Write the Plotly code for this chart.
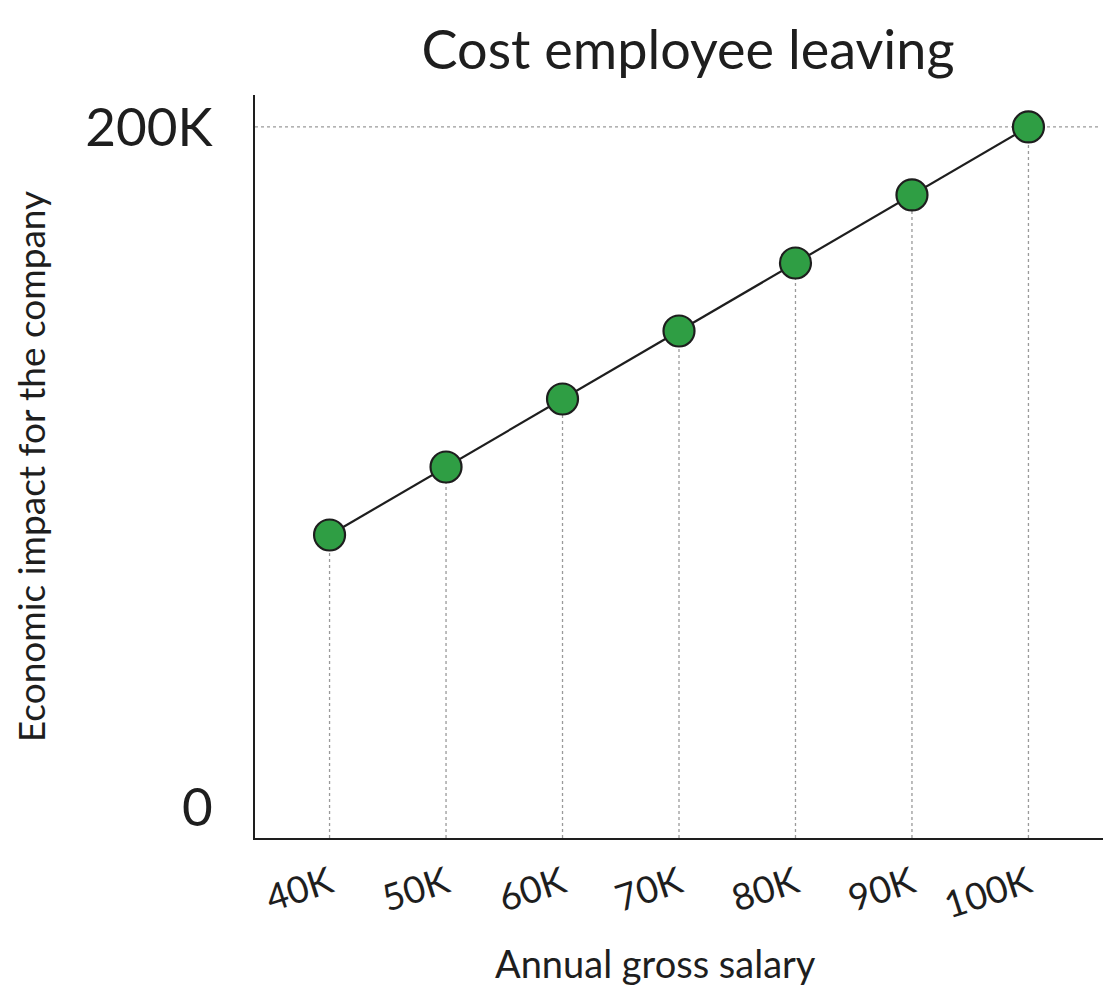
import plotly.graph_objects as go

salary = [40000, 50000, 60000, 70000, 80000, 90000, 100000]
salary_labels = ["40K", "50K", "60K", "70K", "80K", "90K", "100K"]
impact = [80000, 100000, 120000, 140000, 160000, 180000, 200000]
y_tick_vals = [0, 200000]
y_tick_labels = ["0", "200K"]

x_range = [33600, 106400]
y_range = [-9100, 209400]

FONT = "Lato"
INK = "#1e1e1e"
GREEN = "#2f9e44"
GRID = "#9a9a9a"

# drop lines from each point down to the x-axis
drop_x, drop_y = [], []
for sx, iy in zip(salary, impact):
    drop_x += [sx, sx, None]
    drop_y += [y_range[0], iy, None]

fig = go.Figure()
fig.add_trace(go.Scatter(x=drop_x, y=drop_y, mode="lines",
                         line=dict(color=GRID, width=1.3, dash="dot"),
                         hoverinfo="skip", showlegend=False))
# horizontal reference at the top value
fig.add_trace(go.Scatter(x=[x_range[0], x_range[1] - 300], y=[max(impact), max(impact)],
                         mode="lines", line=dict(color=GRID, width=1.3, dash="dot"),
                         hoverinfo="skip", showlegend=False))
fig.add_trace(go.Scatter(x=salary, y=impact, mode="lines+markers",
                         line=dict(color=INK, width=2.2),
                         marker=dict(size=31, color=GREEN, line=dict(color=INK, width=2.2)),
                         showlegend=False))

fig.update_layout(
    width=1113, height=995,
    margin=dict(l=247, r=18, t=87, b=165),
    paper_bgcolor="white", plot_bgcolor="white",
    font=dict(family=FONT, color=INK),
    title=dict(text="Cost employee leaving", x=0.611, xanchor="center",
               y=0.958, yanchor="middle", font=dict(size=54, family=FONT, color=INK)),
    xaxis=dict(range=x_range, tickvals=salary, ticktext=salary_labels,
               tickangle=-18, tickfont=dict(size=37, family=FONT, color=INK),
               showgrid=False, zeroline=False, showline=True, linecolor=INK, linewidth=1.5,
               ticks="", ticklabelstandoff=8, automargin=False),
    yaxis=dict(range=y_range, tickvals=y_tick_vals, ticktext=y_tick_labels,
               tickfont=dict(size=53, family=FONT, color=INK),
               showgrid=False, zeroline=False, showline=True, linecolor=INK, linewidth=1.5,
               ticks="", ticklabelstandoff=30, automargin=False,
               title=dict(text="Economic impact for the company",
                          font=dict(size=37, family=FONT, color=INK), standoff=32)),
    annotations=[dict(text="Annual gross salary", xref="paper", yref="paper",
                      x=0.4717, y=-0.168, xanchor="center", yanchor="middle",
                      showarrow=False, font=dict(size=38, family=FONT, color=INK))],
)

fig.write_html("out.html")
